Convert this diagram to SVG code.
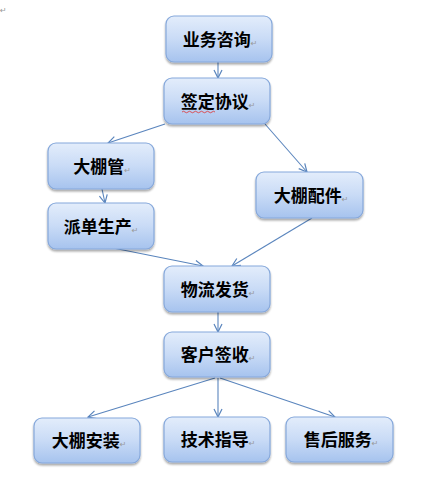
<svg xmlns="http://www.w3.org/2000/svg" width="433" height="487" viewBox="0 0 433 487">
<defs>
<linearGradient id="g" x1="0" y1="0" x2="0" y2="1">
<stop offset="0" stop-color="#e3edfb"/>
<stop offset="0.5" stop-color="#c9dbf6"/>
<stop offset="1" stop-color="#a6c3ee"/>
</linearGradient>
<filter id="sh" x="-10%" y="-10%" width="130%" height="140%">
<feGaussianBlur in="SourceAlpha" stdDeviation="1.2"/>
<feOffset dx="0" dy="2" result="b"/>
<feComponentTransfer><feFuncA type="linear" slope="0.35"/></feComponentTransfer>
<feMerge><feMergeNode/><feMergeNode in="SourceGraphic"/></feMerge>
</filter>
<marker id="arr" viewBox="0 0 10 10" refX="9" refY="5" markerWidth="10" markerHeight="10" markerUnits="userSpaceOnUse" orient="auto">
<path d="M1,1 L9,5 L1,9" fill="none" stroke="#5a85bd" stroke-width="1.2"/>
</marker>
</defs>
<style>
.box{fill:url(#g);stroke:#86a8db;stroke-width:1.2;filter:url(#sh)}
.lbl{font-family:"Noto Sans CJK SC","Noto Sans CJK JP",sans-serif;font-size:17px;font-weight:bold;fill:#000;text-anchor:middle}
.pm{font-family:"DejaVu Sans",sans-serif;font-size:8px;font-weight:normal;fill:#999}
.c line{stroke:#5a85bd;stroke-width:1.1;marker-end:url(#arr)}
</style>
<rect width="433" height="487" fill="#fff"/>
<text x="0" y="13" class="pm">↵</text>

<g class="c">
<line x1="218" y1="62" x2="218" y2="78"/>
<line x1="165" y1="124" x2="108" y2="143"/>
<line x1="265" y1="124" x2="307" y2="172"/>
<line x1="102" y1="189" x2="105" y2="203"/>
<line x1="113" y1="248" x2="203" y2="266"/>
<line x1="312" y1="218" x2="232" y2="266"/>
<line x1="218" y1="312" x2="218" y2="332"/>
<line x1="215" y1="378" x2="88" y2="417"/>
<line x1="218" y1="378" x2="218" y2="417"/>
<line x1="220" y1="378" x2="335" y2="417"/>
</g>

<g id="n1"><rect class="box" x="166" y="16" width="106" height="46" rx="8"/><text class="lbl" x="220" y="46">业务咨询<tspan class="pm">↵</tspan></text></g>
<g id="n2"><rect class="box" x="164" y="78" width="106" height="46" rx="8"/><text class="lbl" x="218" y="108">签定协议<tspan class="pm">↵</tspan></text>
<path d="M182,112 q1.5,-1.5 3,0 t3,0 t3,0 t3,0 t3,0 t3,0 t3,0 t3,0 t3,0 t3,0 t3,0" fill="none" stroke="#e03030" stroke-width="0.8"/></g>
<g id="n3"><rect class="box" x="48" y="143" width="106" height="46" rx="8"/><text class="lbl" x="102" y="173">大棚管<tspan class="pm">↵</tspan></text></g>
<g id="n4"><rect class="box" x="256" y="172" width="107" height="46" rx="8"/><text class="lbl" x="311" y="202">大棚配件<tspan class="pm">↵</tspan></text></g>
<g id="n5"><rect class="box" x="48" y="203" width="106" height="46" rx="8"/><text class="lbl" x="101" y="233">派单生产<tspan class="pm">↵</tspan></text></g>
<g id="n6"><rect class="box" x="164" y="266" width="106" height="46" rx="8"/><text class="lbl" x="218" y="296">物流发货<tspan class="pm">↵</tspan></text></g>
<g id="n7"><rect class="box" x="164" y="332" width="106" height="45" rx="8"/><text class="lbl" x="218" y="361">客户签收<tspan class="pm">↵</tspan></text></g>
<g id="n8"><rect class="box" x="34" y="418" width="106" height="45" rx="8"/><text class="lbl" x="89" y="447">大棚安装<tspan class="pm">↵</tspan></text></g>
<g id="n9"><rect class="box" x="164" y="417" width="106" height="45" rx="8"/><text class="lbl" x="218" y="446">技术指导<tspan class="pm">↵</tspan></text></g>
<g id="n10"><rect class="box" x="286" y="417" width="107" height="45" rx="8"/><text class="lbl" x="341" y="446">售后服务<tspan class="pm">↵</tspan></text></g>
</svg>
